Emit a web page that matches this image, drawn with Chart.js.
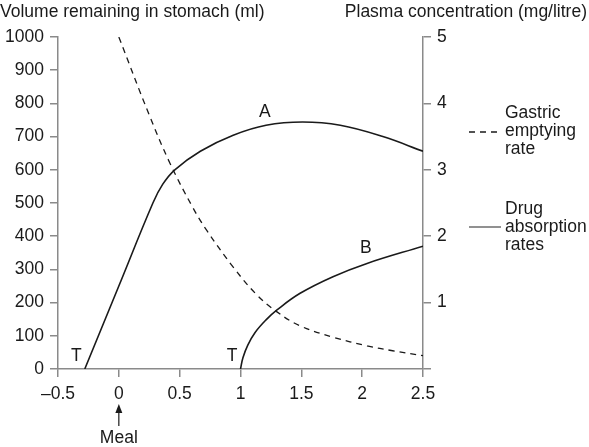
<!DOCTYPE html>
<html>
<head>
    <title>Gastric emptying and drug absorption</title>
    <script src="https://cdn.jsdelivr.net/npm/chart.js"></script>
    <style>
        body { margin: 0; background: #fff; }
    </style>
</head>
<body>
<canvas id="chart" width="589" height="447"></canvas>

<script>
// gastric emptying (volume in stomach, ml) - left axis
const emptyX = [0, 0.25, 0.42, 0.61, 0.72, 0.94, 1.13, 1.3, 1.49, 1.76, 2.04, 2.25, 2.5];
const emptyY = [1000, 765, 620, 485, 419, 307, 225, 172, 130, 96, 70, 55, 40];

// curve A (plasma concentration, mg/litre) - right axis
const aX = [-0.28, 0, 0.28, 0.36, 0.46, 0.67, 0.94, 1.21, 1.51, 1.82, 2.17, 2.5];
const aY = [0, 1.25, 2.5, 2.78, 3.0, 3.28, 3.52, 3.67, 3.72, 3.67, 3.5, 3.28];

// curve B (plasma concentration, mg/litre) - right axis
const bX = [1.0, 1.02, 1.06, 1.12, 1.21, 1.3, 1.49, 1.76, 2.04, 2.5];
const bY = [0, 0.17, 0.36, 0.55, 0.74, 0.89, 1.14, 1.39, 1.59, 1.85];

const xTicks = [-0.5, 0, 0.5, 1, 1.5, 2, 2.5];

const FONT = '"Liberation Sans", Arial, Helvetica, sans-serif';
const FSIZE = 17.5;
const INK = '#1a1a1a';
const AXIS = '#8a8a8a';

const pts = (xs, ys) => xs.map((x, i) => ({ x: x, y: ys[i] }));

// titles, legend and labels drawn on top
const extras = {
    id: 'extras',
    afterDraw(chart) {
        const ctx = chart.ctx;
        const x = chart.scales.x, y1 = chart.scales.y1;
        ctx.save();
        ctx.fillStyle = INK;
        ctx.strokeStyle = INK;
        ctx.font = FSIZE + 'px ' + FONT;
        ctx.textBaseline = 'middle';

        // axis titles
        ctx.textAlign = 'left';
        ctx.fillText('Volume remaining in stomach (ml)', 0, 12);
        ctx.textAlign = 'right';
        ctx.fillText('Plasma concentration (mg/litre)', 587, 12);

        // legend
        ctx.textAlign = 'left';
        ctx.fillText('Gastric', 505, 113);
        ctx.fillText('emptying', 505, 131);
        ctx.fillText('rate', 505, 149);
        ctx.fillText('Drug', 505, 209);
        ctx.fillText('absorption', 505, 227);
        ctx.fillText('rates', 505, 245);
        ctx.lineWidth = 1.3;
        ctx.setLineDash([6, 5]);
        ctx.beginPath(); ctx.moveTo(469, 132); ctx.lineTo(501, 132); ctx.stroke();
        ctx.setLineDash([]);
        ctx.strokeStyle = '#555';
        ctx.beginPath(); ctx.moveTo(469, 227); ctx.lineTo(501, 227); ctx.stroke();
        ctx.strokeStyle = INK;

        // curve labels
        ctx.textAlign = 'center';
        ctx.fillText('A', x.getPixelForValue(1.2), y1.getPixelForValue(3.87));
        ctx.fillText('B', x.getPixelForValue(2.03), y1.getPixelForValue(1.82));
        ctx.fillText('T', x.getPixelForValue(-0.35), y1.getPixelForValue(0.2));
        ctx.fillText('T', x.getPixelForValue(0.93), y1.getPixelForValue(0.2));

        // meal arrow
        const mx = x.getPixelForValue(0);
        ctx.lineWidth = 1.2;
        ctx.beginPath(); ctx.moveTo(mx, 410); ctx.lineTo(mx, 426); ctx.stroke();
        ctx.beginPath();
        ctx.moveTo(mx, 404); ctx.lineTo(mx - 3.5, 413); ctx.lineTo(mx + 3.5, 413);
        ctx.closePath(); ctx.fill();
        ctx.fillText('Meal', mx, 438);
        ctx.restore();
    }
};

const lineBase = {
    pointRadius: 0,
    borderColor: INK,
    fill: false,
    tension: 0.4
};

const axisGrid = { drawOnChartArea: false, color: AXIS, tickLength: 8, lineWidth: 1.5 };
const axisBorder = { color: AXIS, width: 1.5 };

new Chart(document.getElementById('chart'), {
    type: 'line',
    data: {
        datasets: [
            Object.assign({ label: 'Gastric emptying rate', data: pts(emptyX, emptyY), yAxisID: 'y', borderDash: [6, 5], borderWidth: 1.3 }, lineBase),
            Object.assign({ label: 'A', data: pts(aX, aY), yAxisID: 'y1', borderWidth: 1.6 }, lineBase),
            Object.assign({ label: 'B', data: pts(bX, bY), yAxisID: 'y1', borderWidth: 1.6 }, lineBase)
        ]
    },
    options: {
        responsive: false,
        animation: false,
        layout: { padding: { top: 37, right: 0, left: 0, bottom: 0 } },
        plugins: { legend: { display: false }, tooltip: { enabled: false } },
        scales: {
            x: {
                type: 'linear',
                min: -0.5, max: 2.5,
                afterBuildTicks: s => { s.ticks = xTicks.map(v => ({ value: v })); },
                afterFit: s => { s.height = 78; },
                ticks: {
                    color: INK, padding: 7, maxRotation: 0,
                    font: { family: FONT, size: FSIZE },
                    callback: v => (v < 0 ? '\u2013' + Math.abs(v) : String(v))
                },
                grid: axisGrid,
                border: axisBorder
            },
            y: {
                position: 'left',
                min: 0, max: 1000,
                afterFit: s => { s.width = 58; },
                ticks: {
                    stepSize: 100, color: INK, padding: 6,
                    font: { family: FONT, size: FSIZE },
                    callback: v => String(v)
                },
                grid: axisGrid,
                border: axisBorder
            },
            y1: {
                position: 'right',
                min: 0, max: 5,
                afterFit: s => { s.width = 166; },
                ticks: {
                    stepSize: 1, color: INK, padding: 6,
                    font: { family: FONT, size: FSIZE },
                    callback: v => (v === 0 ? '' : String(v))
                },
                grid: axisGrid,
                border: axisBorder
            }
        }
    },
    plugins: [extras]
});
</script>
</body>
</html>
